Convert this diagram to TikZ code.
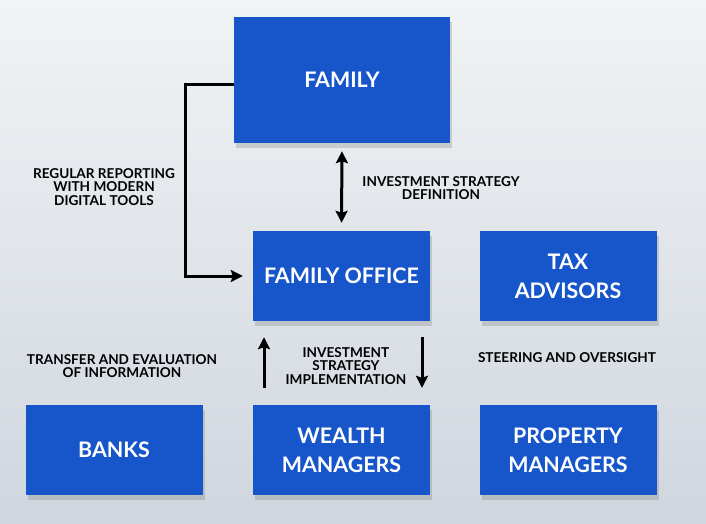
\documentclass[tikz,border=0pt]{standalone}
\usepackage{fontspec}
\setmainfont{Lato}
\usepackage{tikz}
\usetikzlibrary{positioning,arrows.meta,shadows}
\definecolor{boxblue}{HTML}{1655CA}
\definecolor{bgtop}{HTML}{F1F3F5}
\definecolor{bgbottom}{HTML}{CFD6DE}

\begin{document}
\begin{tikzpicture}[
  x=1pt, y=-1pt,
  unit/.style={rectangle, fill=boxblue, text=white, align=center,
    minimum width=177pt, minimum height=90pt, inner sep=0pt,
    font=\bfseries\fontsize{21.4}{29}\selectfont,
    drop shadow={opacity=0.3, shadow xshift=2pt, shadow yshift=-5pt}},
  note/.style={align=center, text=black, inner sep=0pt,
    font=\bfseries\fontsize{13.6}{13.6}\selectfont},
  flow/.style={line width=3pt, -{Stealth[length=12pt,width=12pt,inset=2pt]}},
  bothflow/.style={line width=3pt, {Stealth[length=12pt,width=12pt,inset=2pt]}-{Stealth[length=12pt,width=12pt,inset=2pt]}}
]
% background
\fill[top color=bgtop, bottom color=bgbottom] (0,0) rectangle (706,523);
\useasboundingbox (0,0) rectangle (706,523);

% boxes
\node[unit, minimum width=216pt, minimum height=126pt] (family) at (342,80) {FAMILY};
\node[unit] (office) at (341.5,276) {FAMILY OFFICE};
\node[unit] (tax) at (568,276) {TAX\\ADVISORS};
\node[unit] (banks) at (114,450) {BANKS};
\node[unit] (wealth) at (341.5,450) {WEALTH\\MANAGERS};
\node[unit] (property) at (568,450) {PROPERTY\\MANAGERS};

% connectors
\draw[flow, line cap=butt] ([yshift=-4pt]family.west) -- ++(-48,0) |- ([xshift=-10pt]office.west);
\draw[bothflow, shorten <=8pt, shorten >=8pt] (family.south) -- (office.north);
\draw[flow, shorten <=17pt, shorten >=16pt] ([xshift=-77.5pt]wealth.north) -- ([xshift=-77.5pt]office.south);
\draw[flow, shorten <=16pt, shorten >=17pt] ([xshift=80.5pt]office.south) -- ([xshift=80.5pt]wealth.north);

% labels
\node[note] (reporting) at (104,187) {REGULAR REPORTING\\WITH MODERN\\DIGITAL TOOLS};
\node[note] (definition) at (441,188) {INVESTMENT STRATEGY\\DEFINITION};
\node[note] (transfer) at (122,366) {TRANSFER AND EVALUATION\\OF INFORMATION};
\node[note] (implementation) at (346,366) {INVESTMENT\\STRATEGY\\IMPLEMENTATION};
\node[note] (steering) at (567,358) {STEERING AND OVERSIGHT};
\end{tikzpicture}
\end{document}
